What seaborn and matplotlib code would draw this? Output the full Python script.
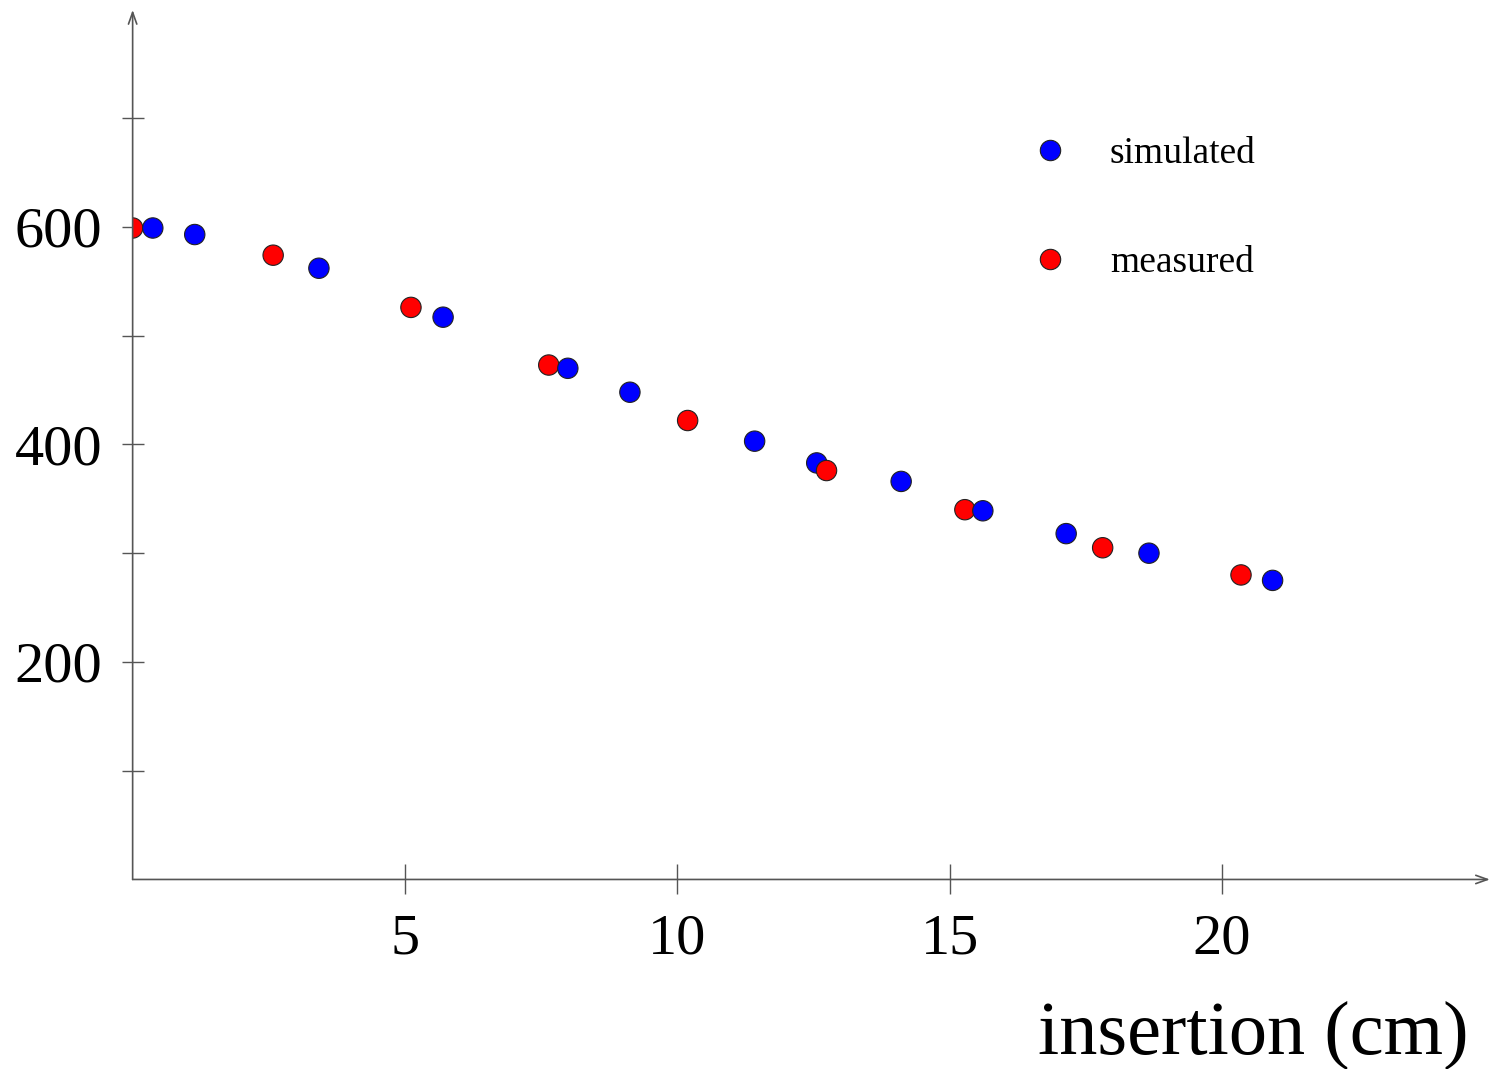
import matplotlib
matplotlib.use("Agg")
import matplotlib.pyplot as plt
from matplotlib.ticker import FixedLocator, NullFormatter
import pandas as pd
import seaborn as sns

# insertion depth (cm) and response for the simulated series
sim_x = [0.37, 1.14, 3.42, 5.70, 7.99, 9.13, 11.42, 12.56, 14.11, 15.61, 17.14, 18.66, 20.93]
sim_y = [599, 593, 562, 517, 470, 448, 403, 383, 366, 339, 318, 300, 275]

# measured series, taken every inch of insertion
meas_x = [0.0, 2.58, 5.11, 7.64, 10.19, 12.74, 15.28, 17.81, 20.35]
meas_y = [599, 574, 526, 473, 422, 376, 340, 305, 280]

series_names = ["simulated", "measured"]
series_colors = ["#0000ff", "#ff0000"]

x_ticks = [5, 10, 15, 20]
y_major = [200, 400, 600]
y_minor = [100, 300, 500, 700]
x_label = "insertion (cm)"

sns.set_theme(style="white")
plt.rcParams["font.family"] = ["Liberation Serif", "DejaVu Serif"]
plt.rcParams["text.color"] = "black"
plt.rcParams["xtick.labelcolor"] = "black"
plt.rcParams["ytick.labelcolor"] = "black"
plt.rcParams["axes.labelcolor"] = "black"

df = pd.concat([
    pd.DataFrame({"x": sim_x, "y": sim_y, "series": series_names[0]}),
    pd.DataFrame({"x": meas_x, "y": meas_y, "series": series_names[1]}),
]).sort_values("x", kind="stable").reset_index(drop=True)

fig = plt.figure(figsize=(14.92, 10.69), dpi=100)
ax = fig.add_axes([0.0889, 0.1773, 0.9097, 0.8134])

sns.scatterplot(
    data=df, x="x", y="y", hue="series", hue_order=series_names,
    palette=dict(zip(series_names, series_colors)),
    s=215, edgecolor="#222222", linewidth=0.8, ax=ax, legend=True, zorder=3,
)

ax.set_xlim(0, 24.92)
ax.set_ylim(0, 799.5)

for side in ["top", "right", "left", "bottom"]:
    ax.spines[side].set_visible(False)

axis_color = "#555555"
arrow = dict(arrowstyle="->,head_length=0.7,head_width=0.25", color=axis_color, lw=1.2,
             shrinkA=0, shrinkB=0)
ax.annotate("", xy=(1.0, 0.0), xytext=(0.0, 0.0), xycoords="axes fraction", arrowprops=arrow)
ax.annotate("", xy=(0.0, 1.0), xytext=(0.0, 0.0), xycoords="axes fraction", arrowprops=arrow)

ax.xaxis.set_major_locator(FixedLocator(x_ticks))
ax.yaxis.set_major_locator(FixedLocator(y_major))
ax.yaxis.set_minor_locator(FixedLocator(y_minor))
ax.yaxis.set_minor_formatter(NullFormatter())

ax.tick_params(axis="x", which="major", direction="inout", length=21, width=1.0,
               color=axis_color, labelcolor="black", labelsize=42, pad=14, bottom=True)
ax.tick_params(axis="y", which="both", direction="inout", length=16, width=1.0,
               color=axis_color, labelcolor="black", labelsize=42, pad=14, left=True)
for lbl in ax.get_yticklabels():
    lbl.set_va("center_baseline")

ax.set_xlabel(x_label, fontsize=55, ha="right", va="top", color="black")
ax.xaxis.set_label_coords(0.984, -0.139)
ax.set_ylabel("")

handles, labels = ax.get_legend_handles_labels()
leg = ax.legend(handles, labels, loc="center left", bbox_to_anchor=(0.662, 0.772),
                frameon=False, fontsize=27, handlelength=1.0, handletextpad=1.1,
                labelspacing=2.0, borderpad=0, borderaxespad=0, markerscale=1.0)
for t in leg.get_texts():
    t.set_color("black")

fig.savefig("out.png", dpi=100, facecolor="white")
